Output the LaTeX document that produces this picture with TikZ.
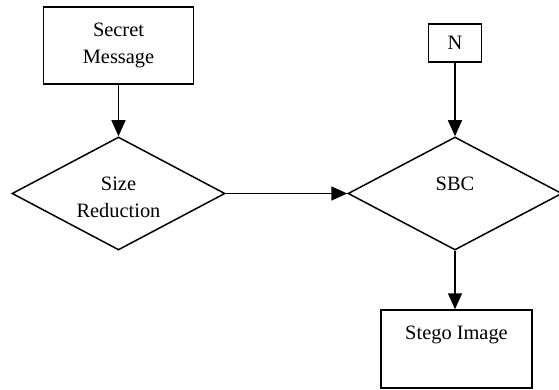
\documentclass[tikz,border=0pt]{standalone}
\usepackage{fontspec}
\setmainfont{Liberation Serif}
\usetikzlibrary{shapes.geometric,arrows.meta}
\begin{document}
\begin{tikzpicture}[x=1pt,y=-1pt,
  every node/.style={font=\fontsize{20.4}{27}\selectfont},
  box/.style={draw,line width=1.5pt,rectangle,inner sep=0pt,align=center},
  decision/.style={draw,line width=1.5pt,diamond,inner sep=0pt},
  txt/.style={inner sep=0pt,align=center},
  flow/.style={line width=1.5pt,-{Triangle[length=16pt,width=14pt]}}]
\useasboundingbox (0,0) rectangle (559,390);

% boxes
\node[box,minimum width=150pt,minimum height=77pt] (secret) at (118.5,45.5) {Secret\\Message};
\node[box,minimum width=53pt,minimum height=38pt] (n) at (455,43) {N};
\node[box,minimum width=151pt,minimum height=78pt] (stego) at (456.5,349) {};
\node[txt,anchor=base] (stegotext) at (456.5,339) {Stego Image};

% decisions
\node[decision,minimum width=213pt,minimum height=113pt] (size) at (118.5,193.5) {};
\node[txt] (sizetext) at (118.5,197) {Size\\Reduction};
\node[decision,minimum width=214pt,minimum height=113pt] (sbc) at (455,193.5) {};
\node[txt,anchor=base] (sbctext) at (455,190) {SBC};

% connectors
\draw[flow] (secret.south) -- (size.north);
\draw[flow] (size.east) -- (sbc.west);
\draw[flow] (n.south) -- (sbc.north);
\draw[flow] (sbc.south) -- (sbc.south |- stego.north);
\end{tikzpicture}
\end{document}
